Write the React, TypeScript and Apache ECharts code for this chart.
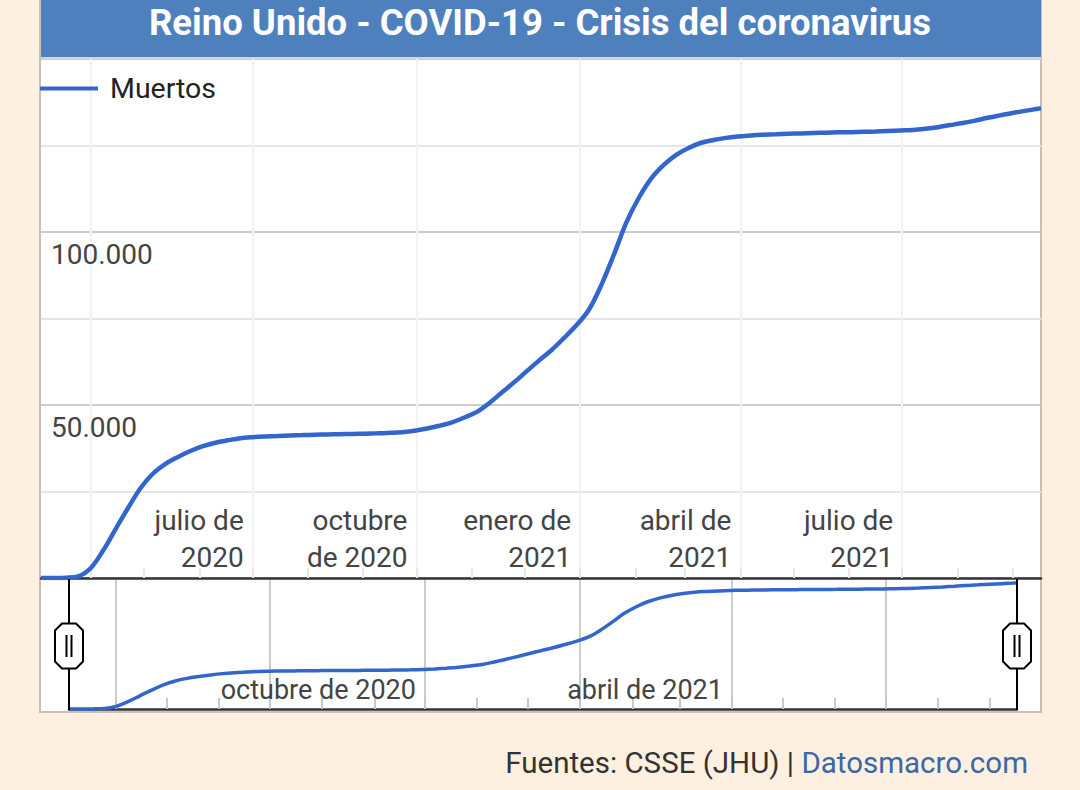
import React, { useEffect, useRef } from 'react';
import * as echarts from 'echarts';

const TITLE = 'Reino Unido - COVID-19 - Crisis del coronavirus';
const SERIES_NAME = 'Muertos';
const SOURCE_TEXT = 'Fuentes: CSSE (JHU) | ';
const SOURCE_LINK = 'Datosmacro.com';

const RANGE_START = '2020-03-04';
const RANGE_END = '2021-09-17';

const DATES = [
  '2020-03-04', '2020-03-11', '2020-03-18', '2020-03-25',
  '2020-04-01', '2020-04-08', '2020-04-15', '2020-04-22', '2020-04-29',
  '2020-05-06', '2020-05-13', '2020-05-20', '2020-05-27',
  '2020-06-03', '2020-06-10', '2020-06-17', '2020-06-24',
  '2020-07-01', '2020-07-08', '2020-07-15', '2020-07-22', '2020-07-29',
  '2020-08-05', '2020-08-12', '2020-08-19', '2020-08-26',
  '2020-09-02', '2020-09-09', '2020-09-16', '2020-09-23', '2020-09-30',
  '2020-10-07', '2020-10-14', '2020-10-21', '2020-10-28',
  '2020-11-04', '2020-11-11', '2020-11-18', '2020-11-25',
  '2020-12-02', '2020-12-09', '2020-12-16', '2020-12-23', '2020-12-30',
  '2021-01-06', '2021-01-13', '2021-01-20', '2021-01-27',
  '2021-02-03', '2021-02-10', '2021-02-17', '2021-02-24',
  '2021-03-03', '2021-03-10', '2021-03-17', '2021-03-24', '2021-03-31',
  '2021-04-07', '2021-04-14', '2021-04-21', '2021-04-28',
  '2021-05-05', '2021-05-12', '2021-05-19', '2021-05-26',
  '2021-06-02', '2021-06-09', '2021-06-16', '2021-06-23', '2021-06-30',
  '2021-07-07', '2021-07-14', '2021-07-21', '2021-07-28',
  '2021-08-04', '2021-08-11', '2021-08-18', '2021-08-25',
  '2021-09-01', '2021-09-08', '2021-09-15', '2021-09-17',
];

const DEATHS = [
  0, 10, 100, 500,
  2900, 8000, 14200, 20300, 26000,
  30200, 33000, 35000, 36700,
  38100, 39100, 39800, 40400,
  40700, 40900, 41050, 41200, 41300,
  41400, 41480, 41550, 41620,
  41700, 41800, 41950, 42150, 42550,
  43200, 44000, 45000, 46400,
  48000, 50600, 53600, 56600,
  59800, 62900, 65900, 69400, 73100,
  77600, 84800, 93500, 102800,
  109900, 115500, 119400, 122300,
  124300, 125800, 126600, 127200, 127600,
  127900, 128100, 128250, 128400,
  128500, 128600, 128700, 128800,
  128850, 128950, 129050, 129200, 129350,
  129500, 129850, 130300, 130900,
  131500, 132200, 133000, 133700,
  134400, 135000, 135600, 135800,
];

// vertical grid lines (quarter starts)
const QUARTER_DATES = ['2020-04-01', '2020-07-01', '2020-10-01', '2021-01-01', '2021-04-01', '2021-07-01'];
// main axis labels
const MAIN_LABEL_DATES = ['2020-07-01', '2020-10-01', '2021-01-01', '2021-04-01', '2021-07-01'];
const MAIN_LABELS = ['julio de\n2020', 'octubre\nde 2020', 'enero de\n2021', 'abril de\n2021', 'julio de\n2021'];
// navigator labels
const NAV_LABEL_DATES = ['2020-10-01', '2021-04-01'];
const NAV_LABELS = ['octubre de 2020', 'abril de 2021'];
// monthly minor ticks
const MONTH_DATES = [
  '2020-04-01', '2020-05-01', '2020-06-01', '2020-07-01', '2020-08-01', '2020-09-01',
  '2020-10-01', '2020-11-01', '2020-12-01', '2021-01-01', '2021-02-01', '2021-03-01',
  '2021-04-01', '2021-05-01', '2021-06-01', '2021-07-01', '2021-08-01', '2021-09-01',
];
const Y_LABEL_VALUES = [50000, 100000];

const ts = (s: string) => {
  const [y, m, d] = s.split('-').map(Number);
  return Date.UTC(y, m - 1, d);
};

const fmtThousands = (v: number) => String(v).replace(/\B(?=(\d{3})+(?!\d))/g, '.');

const FONT = 'Roboto';
const BLUE = '#3366cc';

// layout constants
const PANEL_L = 40;
const PANEL_R = 1041;
const MAIN_TOP = 59;
const MAIN_BOTTOM = 578;
const NAV_L = 69;
const NAV_R = 1017;
const NAV_TOP = 579;
const NAV_BOTTOM = 709;

function handle(cx: number) {
  const cy = 646;
  const hw = 14;
  const hh = 22.5;
  const c = 7;
  return [
    { type: 'line', z: 15, silent: true, shape: { x1: cx, y1: NAV_TOP, x2: cx, y2: NAV_BOTTOM + 1 }, style: { stroke: '#000', lineWidth: 2 } },
    {
      type: 'polygon', z: 16, silent: true,
      shape: {
        points: [
          [cx - hw + c, cy - hh], [cx + hw - c, cy - hh], [cx + hw, cy - hh + c], [cx + hw, cy + hh - c],
          [cx + hw - c, cy + hh], [cx - hw + c, cy + hh], [cx - hw, cy + hh - c], [cx - hw, cy - hh + c],
        ],
      },
      style: { fill: '#fff', stroke: '#000', lineWidth: 2 },
    },
    { type: 'line', z: 17, silent: true, shape: { x1: cx - 2.5, y1: cy - 11, x2: cx - 2.5, y2: cy + 11 }, style: { stroke: '#000', lineWidth: 2 } },
    { type: 'line', z: 17, silent: true, shape: { x1: cx + 2.5, y1: cy - 11, x2: cx + 2.5, y2: cy + 11 }, style: { stroke: '#000', lineWidth: 2 } },
  ];
}

export default function App() {
  const ref = useRef<HTMLDivElement>(null);

  useEffect(() => {
    if (!ref.current) return;
    const chart = echarts.init(ref.current, null, { renderer: 'svg' });
    const seriesData = DATES.map((d, i) => [ts(d), DEATHS[i]]);
    const mainLabelTs = MAIN_LABEL_DATES.map(ts);
    const navLabelTs = NAV_LABEL_DATES.map(ts);
    const xMin = ts(RANGE_START);
    const xMax = ts(RANGE_END);

    const option: any = {
      animation: false,
      backgroundColor: 'transparent',
      textStyle: { fontFamily: FONT },
      title: {
        text: TITLE,
        left: 'center',
        top: 4,
        padding: 0,
        z: 20,
        textStyle: { color: '#ffffff', fontSize: 36.5, fontWeight: 'bold', fontFamily: FONT, lineHeight: 37 },
      },
      legend: {
        left: PANEL_L,
        top: 74,
        padding: 0,
        icon: 'rect',
        itemWidth: 58,
        itemHeight: 4,
        data: [SERIES_NAME],
        textStyle: { fontSize: 28.5, color: '#222', fontFamily: FONT, lineHeight: 28, padding: [0, 0, 0, 7] },
      },
      grid: [
        { left: PANEL_L + 1, right: 1080 - PANEL_R, top: MAIN_TOP, height: MAIN_BOTTOM - MAIN_TOP },
        { left: NAV_L, right: 1080 - NAV_R, top: NAV_TOP, height: NAV_BOTTOM - NAV_TOP },
      ],
      xAxis: [
        {
          type: 'value', gridIndex: 0, position: 'bottom',
          min: xMin, max: xMax,
          axisLine: { show: true, onZero: false, lineStyle: { color: '#333', width: 2.5 } },
          axisTick: { show: false, customValues: QUARTER_DATES.map(ts) },
          splitLine: { show: true, lineStyle: { color: '#f2f2f2', width: 2 } },
          axisLabel: {
            show: true, inside: true, customValues: mainLabelTs,
            formatter: (v: number) => { const i = mainLabelTs.indexOf(v); return i >= 0 ? MAIN_LABELS[i] : ''; },
            align: 'right', verticalAlign: 'bottom', padding: [0, 9, 0, 0], margin: 2,
            fontSize: 28, lineHeight: 37, color: '#444', fontFamily: FONT, hideOverlap: false,
            showMinLabel: true, showMaxLabel: true,
          },
        },
        {
          type: 'value', gridIndex: 0, position: 'bottom', offset: 0,
          min: xMin, max: xMax,
          axisLine: { show: false, onZero: false },
          axisLabel: { show: false },
          splitLine: { show: false },
          axisTick: { show: true, inside: true, length: 10, customValues: MONTH_DATES.map(ts), lineStyle: { color: '#e8e8e8', width: 2 } },
        },
        {
          type: 'value', gridIndex: 1, position: 'bottom',
          min: xMin, max: xMax,
          axisLine: { show: true, onZero: false, lineStyle: { color: '#333', width: 2.5 } },
          axisTick: { show: false, customValues: QUARTER_DATES.map(ts) },
          splitLine: { show: true, lineStyle: { color: '#cccccc', width: 2 } },
          axisLabel: {
            show: true, inside: true, customValues: navLabelTs,
            formatter: (v: number) => { const i = navLabelTs.indexOf(v); return i >= 0 ? NAV_LABELS[i] : ''; },
            align: 'right', verticalAlign: 'bottom', padding: [0, 9, 0, 0], margin: 6,
            fontSize: 27, lineHeight: 27, color: '#444', fontFamily: FONT, hideOverlap: false,
          },
        },
        {
          type: 'value', gridIndex: 1, position: 'bottom', offset: 0,
          min: xMin, max: xMax,
          axisLine: { show: false, onZero: false },
          axisLabel: { show: false },
          splitLine: { show: false },
          axisTick: { show: true, inside: true, length: 11, customValues: MONTH_DATES.map(ts), lineStyle: { color: '#c8c8c8', width: 2 } },
        },
      ],
      yAxis: [
        {
          type: 'value', gridIndex: 0, min: 0, max: 150000, interval: 25000,
          axisLine: { show: false },
          axisTick: { show: false },
          splitLine: { show: true, lineStyle: { color: ['#cccccc', '#e6e6e6'], width: 2 } },
          axisLabel: {
            inside: true, margin: 10, verticalAlign: 'top', padding: [8, 0, 0, 0],
            fontSize: 28, lineHeight: 28, color: '#444', fontFamily: FONT,
            formatter: (v: number) => (Y_LABEL_VALUES.indexOf(v) >= 0 ? fmtThousands(v) : ''),
          },
        },
        {
          type: 'value', gridIndex: 1, min: 0, max: 140000, show: false,
        },
      ],
      series: [
        {
          type: 'line', name: SERIES_NAME, xAxisIndex: 0, yAxisIndex: 0,
          data: seriesData, showSymbol: false, smooth: 0.35, z: 5,
          lineStyle: { width: 4.5, color: BLUE }, itemStyle: { color: BLUE },
        },
        {
          type: 'line', name: SERIES_NAME + ' (navegador)', xAxisIndex: 2, yAxisIndex: 1,
          data: seriesData, showSymbol: false, smooth: 0.35, z: 5,
          lineStyle: { width: 3.5, color: BLUE }, itemStyle: { color: BLUE },
        },
      ],
      graphic: {
        elements: [
          {
            type: 'rect', z: -10, silent: true,
            shape: { x: PANEL_L, y: -5, width: PANEL_R - PANEL_L, height: 717 },
            style: { fill: '#ffffff', stroke: '#c9c0b5', lineWidth: 2 },
          },
          {
            type: 'rect', z: 10, silent: true,
            shape: { x: PANEL_L + 1, y: 0, width: PANEL_R - PANEL_L - 1, height: 57 },
            style: { fill: '#4f80be' },
          },
          {
            type: 'rect', z: 10, silent: true,
            shape: { x: PANEL_L + 1, y: 57, width: PANEL_R - PANEL_L - 1, height: 2 },
            style: { fill: '#d6d6d6' },
          },
          ...handle(NAV_L),
          ...handle(NAV_R),
          {
            type: 'text', z: 10, silent: true,
            x: 1028, y: 763,
            style: {
              text: '{a|' + SOURCE_TEXT + '}{b|' + SOURCE_LINK + '}',
              align: 'right', verticalAlign: 'middle',
              rich: {
                a: { fontSize: 29.5, fontFamily: FONT, fill: '#333333' },
                b: { fontSize: 29.5, fontFamily: FONT, fill: '#3b67a8' },
              },
            },
          },
        ],
      },
    };

    chart.setOption(option);
    return () => chart.dispose();
  }, []);

  return (
    <div
      ref={ref}
      style={{ position: 'fixed', left: 0, top: 0, width: 1080, height: 790, background: '#fdf0e1' }}
    />
  );
}
